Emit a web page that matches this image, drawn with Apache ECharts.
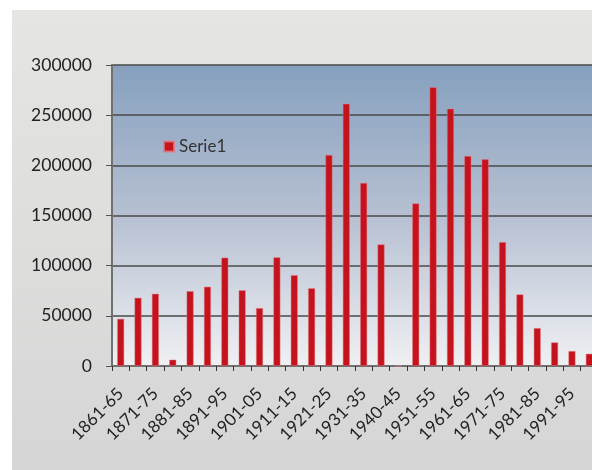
<!DOCTYPE html>
<html>
<head>
<meta charset="utf-8">
<script src="https://cdn.jsdelivr.net/npm/echarts@6/dist/echarts.min.js"></script>
<style>
html,body{margin:0;padding:0;background:#fff;}
#c{width:592px;height:470px;}
</style>
</head>
<body>
<div id="c"></div>
<script>
const categories = ['1861-65','1866-70','1871-75','1876-80','1881-85','1886-90','1891-95','1896-00','1901-05','1906-10','1911-15','1916-20','1921-25','1926-30','1931-35','1936-39','1940-45','1946-50','1951-55','1956-60','1961-65','1966-70','1971-75','1976-80','1981-85','1986-90','1991-95','1996-00'];
const serie1 = [47000,68000,72000,6300,74600,79000,108000,75500,57700,108300,90500,77500,210300,261400,182400,121200,0,162100,277800,256400,209300,206000,123500,71300,37800,23500,14900,12200];
const seriesName = 'Serie1';
const yTicks = {min:0, max:300000, interval:50000};

const chart = echarts.init(document.getElementById('c'), null, {renderer:'canvas'});
const font = 'Lato, "Open Sans", sans-serif';
chart.setOption({
  animation:false,
  backgroundColor:'#ffffff',
  graphic:[{
    type:'rect', z:-10, silent:true,
    shape:{x:12,y:10,width:600,height:480},
    style:{fill:new echarts.graphic.LinearGradient(0,0,0,1,[{offset:0,color:'#e5e5e3'},{offset:1,color:'#d5d5d5'}])}
  }],
  grid:{
    left:112, top:65, width:486, height:301, show:true, borderWidth:0,
    containLabel:false, outerBoundsMode:'none',
    backgroundColor:new echarts.graphic.LinearGradient(0,0,0,1,[{offset:0,color:'#86a0be'},{offset:0.5,color:'#b6c0d2'},{offset:1,color:'#eff0f2'}])
  },
  legend:{
    show:true, left:163, top:138, padding:0, itemWidth:10, itemHeight:10, itemGap:6,
    icon:'rect',
    textStyle:{fontFamily:font,fontSize:17,color:'#333'},
    data:[seriesName]
  },
  xAxis:{
    type:'category', data:categories, boundaryGap:true,
    axisLine:{show:true,lineStyle:{color:'#707070',width:2}},
    axisTick:{show:true,interval:0,length:5,lineStyle:{color:'#333',width:1}},
    axisLabel:{interval:1,rotate:45,margin:25,fontFamily:font,fontSize:17,color:'#222'},
    splitLine:{show:false}
  },
  yAxis:{
    type:'value', min:yTicks.min, max:yTicks.max, interval:yTicks.interval,
    axisLine:{show:true,lineStyle:{color:'#707070',width:2}},
    axisTick:{show:true,length:6,lineStyle:{color:'#555',width:1}},
    axisLabel:{margin:20,fontFamily:font,fontSize:17.5,color:'#222',formatter:function(v){return String(v);}},
    splitLine:{show:true,lineStyle:{color:'#4a4a4a',width:1.5}}
  },
  series:[{
    name:seriesName, type:'bar', data:serie1, barWidth:7,
    itemStyle:{color:'#c5131d',borderColor:'rgba(225,120,130,0.8)',borderWidth:0.6}
  }]
});
</script>
</body>
</html>
